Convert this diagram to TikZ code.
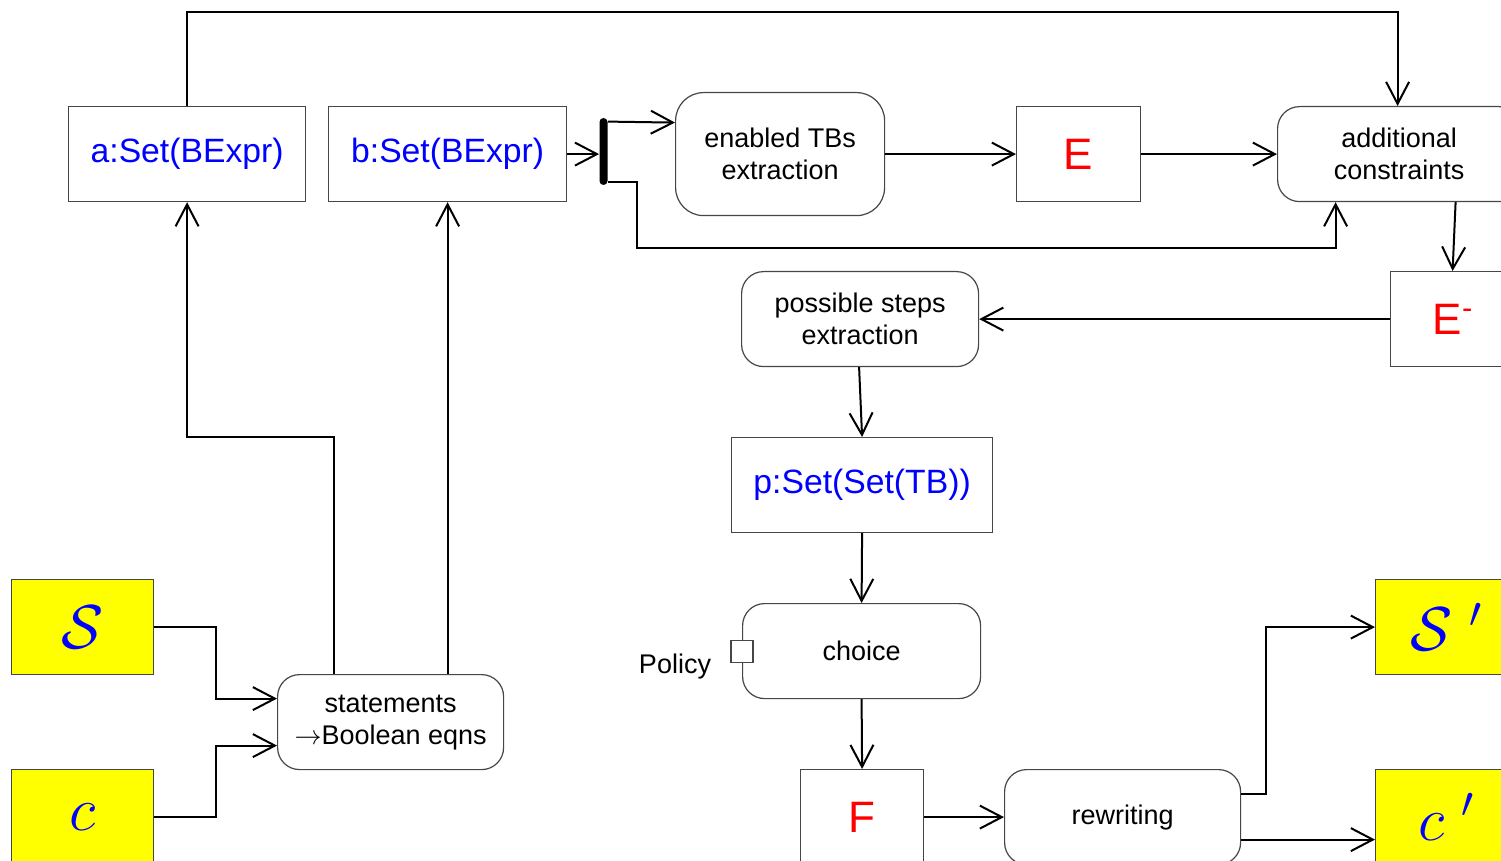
\RequirePackage{fix-cm}
\documentclass[tikz,border=0pt]{standalone}
\usepackage{fontspec}
\setmainfont{Liberation Sans}
\usetikzlibrary{arrows.meta}
\definecolor{lblue}{RGB}{0,0,255}
\definecolor{lred}{RGB}{255,0,0}
\definecolor{lyellow}{RGB}{255,255,0}
\definecolor{edgegray}{RGB}{70,70,70}
\tikzset{
  box/.style={draw=edgegray, line width=0.6pt, rectangle, inner sep=0pt,
    anchor=north west, minimum height=47.5pt, align=center,
    font=\fontsize{13.5}{16}\selectfont},
  rbox/.style={box, rounded corners=11pt},
  setlbl/.style={box, text=lblue, font=\fontsize{16.85}{20}\selectfont},
  evtlbl/.style={box, text=lred, font=\fontsize{22}{26}\selectfont},
  statebox/.style={box, fill=lyellow, minimum width=71pt, text=lblue,
    font=\fontsize{31}{36}\selectfont},
  forkbar/.style={fill=black, rounded corners=2pt, minimum width=4pt,
    minimum height=33.5pt, inner sep=0pt},
  pinbox/.style={draw=edgegray, fill=white, line width=0.6pt,
    minimum size=11pt, inner sep=0pt},
  conn/.style={line width=1pt, -{Straight Barb[length=11pt,width=11.5pt]}}
}
\begin{document}
\begin{tikzpicture}[x=0.5pt,y=-0.5pt]
\clip (0,0) rectangle (1501,861);

% object nodes
\node[setlbl, minimum width=118.5pt] (a) at (68,106) {a:Set(BExpr)};
\node[setlbl, minimum width=119pt] (b) at (328,106) {b:Set(BExpr)};
\node[setlbl, minimum width=130.5pt] (p) at (731,437) {p:Set(Set(TB))};
\node[evtlbl, minimum width=62pt] (E) at (1016,106) {E};
\node[evtlbl, minimum width=62.5pt] (Em) at (1390,271) {E\textsuperscript{-}};
\node[evtlbl, minimum width=61.5pt] (F) at (800,769) {F};

% action nodes
\node[rbox, minimum width=104.5pt, minimum height=61.5pt, rounded corners=14pt] (en) at (675,92) {enabled TBs\\extraction};
\node[rbox, minimum width=121.5pt] (add) at (1277,106) {additional\\constraints};
\node[rbox, minimum width=118.5pt] (poss) at (741,271) {possible steps\\extraction};
\node[rbox, minimum width=119pt] (choice) at (742,603) {choice};
\node[rbox, minimum width=118pt] (rew) at (1004,769) {rewriting};
\node[rbox, minimum width=113pt] (st) at (277,674) {statements\\$\rightarrow$Boolean eqns};

% state nodes
\node[statebox] (S) at (11,579) {$\mathcal{S}$};
\node[statebox] (c) at (11,769) {$c$};
\node[statebox] (Sp) at (1375,579) {$\mathcal{S}\;{}'$};
\node[statebox] (cp) at (1375,769) {$c\;{}'$};

% fork and policy pin
\node[forkbar] (fork) at (603.5,151.5) {};
\node[pinbox] (pin) at (choice.west) {};
\node[font=\fontsize{13.5}{16}\selectfont] (policy) at (675,667) {Policy};

% connectors
\coordinate (topline) at (0,12);
\draw[conn] (a.north) -- (a.north |- topline) -| ([shift={(-1.5,0)}]add.north);
\draw[conn] (S.east) -- ++(62,0) |- ([shift={(0,-23.5)}]st.west);
\draw[conn] (c.east) -- ++(62,0) |- ([shift={(0,23.5)}]st.west);
\draw[conn] ([shift={(-57,0)}]st.north) -- ++(0,-237) -| (a.south);
\draw[conn] (st.north -| b.south) -- (b.south);
\draw[conn] (b.east) -- (b.east -| fork.west);
\draw[conn] ([shift={(0,4)}]fork.north east) -- ([shift={(0,-31.5)}]en.west);
\draw[conn] ([shift={(0,-3)}]fork.south east) -- ++(29,0) -- ++(0,66) -| ([shift={(-63.5,0)}]add.south);
\draw[conn] (en.east) -- (E.west);
\draw[conn] (E.east) -- (add.west);
\draw[conn] ([shift={(56.5,0)}]add.south) -- ([shift={(-0.5,0)}]Em.north);
\draw[conn] (Em.west) -- (poss.east);
\draw[conn] ([shift={(-1,0)}]poss.south) -- (p.north);
\draw[conn] (p.south) -- (choice.north);
\draw[conn] (choice.south) -- (F.north);
\draw[conn] (F.east) -- (rew.west);
\draw[conn] ([shift={(0,-23.5)}]rew.east) -- ++(25,0) |- (Sp.west);
\draw[conn] ([shift={(0,22.5)}]rew.east) -- ([shift={(0,22.5)}]cp.west);
\end{tikzpicture}
\end{document}
